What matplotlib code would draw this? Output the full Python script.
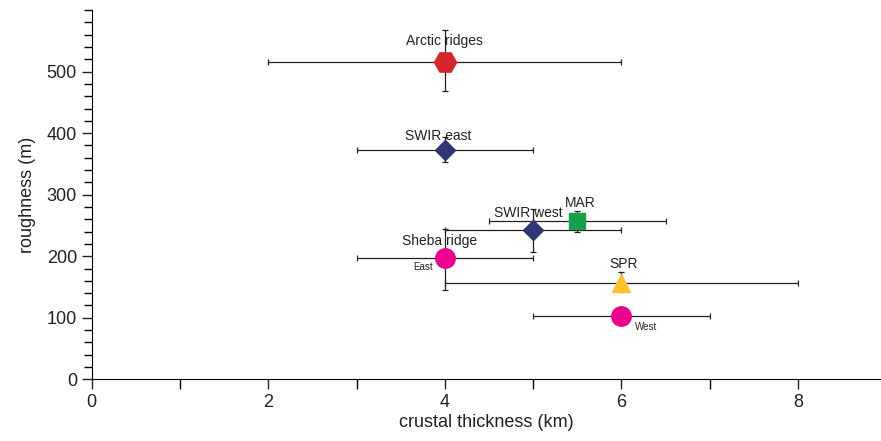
import matplotlib.pyplot as plt
from matplotlib.ticker import MultipleLocator

plt.rcParams['font.family'] = ['Liberation Sans', 'DejaVu Sans']

# ridge data: crustal thickness (km) vs roughness (m)
names = ['Arctic ridges', 'SWIR east', 'SWIR west', 'MAR', 'Sheba East', 'SPR', 'Sheba West']
thick = [4.0, 4.0, 5.0, 5.5, 4.0, 6.0, 6.0]
rough = [516, 372, 242, 257, 197, 157, 103]
thick_lo = [2.0, 3.0, 4.0, 4.5, 3.0, 4.0, 5.0]
thick_hi = [6.0, 5.0, 6.0, 6.5, 5.0, 8.0, 7.0]
rough_lo = [468, 353, 207, 240, 145, 142, 103]
rough_hi = [568, 394, 276, 273, 244, 174, 103]

markers = ['H', 'D', 'D', 's', 'o', '^', 'o']
sizes = [16, 10, 10, 12, 14, 13, 14]
colors = ['#D7262B', '#2E3675', '#2E3675', '#17A04A', '#EC008C', '#FDC130', '#EC008C']

fig, ax = plt.subplots(figsize=(8.81, 4.41), dpi=100)
fig.subplots_adjust(left=0.104, right=0.999, top=0.977, bottom=0.14)

for i in range(len(names)):
    xe = [[thick[i] - thick_lo[i]], [thick_hi[i] - thick[i]]]
    ye = [[rough[i] - rough_lo[i]], [rough_hi[i] - rough[i]]]
    ax.errorbar(thick[i], rough[i], xerr=xe, yerr=ye, fmt='none',
                ecolor='#222222', elinewidth=0.9, capsize=2.5, capthick=0.9, zorder=2)
    ax.plot(thick[i], rough[i], marker=markers[i], ms=sizes[i], color=colors[i],
            mec=colors[i], ls='none', zorder=3)

# labels
ax.text(4.0, 550, 'Arctic ridges', ha='center', va='center', fontsize=10, color='#222222')
ax.text(3.92, 395, 'SWIR east', ha='center', va='center', fontsize=10, color='#222222')
ax.text(4.94, 270, 'SWIR west', ha='center', va='center', fontsize=10, color='#222222')
ax.text(5.53, 287, 'MAR', ha='center', va='center', fontsize=10, color='#222222')
ax.text(3.94, 224, 'Sheba ridge', ha='center', va='center', fontsize=10, color='#222222')
ax.text(3.75, 182, 'East', ha='center', va='center', fontsize=7, color='#222222')
ax.text(6.02, 187, 'SPR', ha='center', va='center', fontsize=10, color='#222222')
ax.text(6.28, 85, 'West', ha='center', va='center', fontsize=7, color='#222222')

ax.set_xlim(0, 8.93)
ax.set_ylim(0, 600)
ax.spines['top'].set_visible(False)
ax.spines['right'].set_visible(False)
ax.xaxis.set_major_locator(MultipleLocator(2))
ax.xaxis.set_minor_locator(MultipleLocator(1))
ax.set_yticks(range(0, 501, 100))
ax.set_yticks(range(0, 601, 20), minor=True)
ax.tick_params(axis='both', which='major', labelsize=13, colors='#222222', width=1, length=7)
ax.tick_params(axis='x', which='minor', length=7, width=1)
ax.tick_params(axis='y', which='minor', length=6, width=1)
ax.set_xlabel('crustal thickness (km)', fontsize=13, color='#222222', labelpad=2)
ax.set_ylabel('roughness (m)', fontsize=13, color='#222222', labelpad=8)

plt.savefig('out.png', dpi=100)
